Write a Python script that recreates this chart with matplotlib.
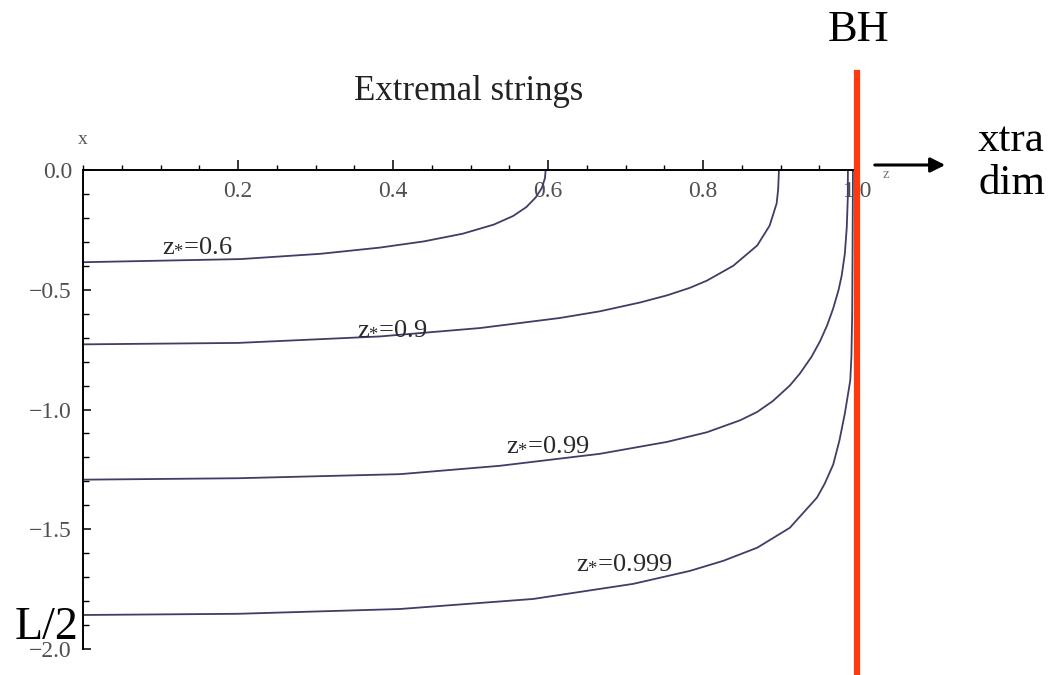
import matplotlib
matplotlib.use("Agg")
import matplotlib.pyplot as plt
from matplotlib.lines import Line2D
from matplotlib.ticker import MultipleLocator, FixedLocator, FuncFormatter

# ---- data ----
z_star_labels = ["0.6", "0.9", "0.99", "0.999"]

z_06 = [0.0, 0.203, 0.306, 0.383, 0.440, 0.490, 0.530, 0.555, 0.572, 0.584, 0.592, 0.596, 0.597]
x_06 = [-0.385, -0.372, -0.350, -0.324, -0.298, -0.266, -0.228, -0.192, -0.155, -0.115,
        -0.075, -0.035, 0.0]

z_09 = [0.0, 0.2, 0.383, 0.512, 0.615, 0.667, 0.719, 0.754, 0.783, 0.805, 0.839, 0.870,
        0.886, 0.895, 0.897, 0.898]
x_09 = [-0.728, -0.722, -0.695, -0.660, -0.618, -0.590, -0.553, -0.523, -0.492, -0.462,
        -0.400, -0.315, -0.232, -0.140, -0.080, 0.0]

z_099 = [0.0, 0.2, 0.409, 0.538, 0.667, 0.754, 0.805, 0.848, 0.870, 0.890, 0.912, 0.925,
         0.940, 0.951, 0.960, 0.968, 0.975, 0.979, 0.983, 0.9855, 0.9868, 0.987]
x_099 = [-1.293, -1.287, -1.270, -1.235, -1.185, -1.135, -1.095, -1.045, -1.010, -0.965,
         -0.900, -0.850, -0.780, -0.715, -0.650, -0.578, -0.500, -0.440, -0.350, -0.240,
         -0.120, 0.0]

z_0999 = [0.0, 0.2, 0.409, 0.581, 0.710, 0.783, 0.826, 0.870, 0.912, 0.947, 0.957, 0.968,
          0.976, 0.983, 0.990, 0.9915, 0.9925, 0.993, 0.9935]
x_0999 = [-1.858, -1.853, -1.833, -1.791, -1.728, -1.674, -1.632, -1.577, -1.494, -1.368,
          -1.310, -1.230, -1.130, -1.017, -0.879, -0.780, -0.600, -0.330, 0.0]

curves_z = [z_06, z_09, z_099, z_0999]
curves_x = [x_06, x_09, x_099, x_0999]

# label anchor positions (data coords) for each curve label
label_z = [0.148, 0.399, 0.600, 0.699]
label_x = [-0.314, -0.660, -1.146, -1.636]

x_ticks = [0.2, 0.4, 0.6, 0.8, 1.0]
y_ticks = [0.0, -0.5, -1.0, -1.5, -2.0]

# ---- figure ----
W, H = 1050, 675
fig = plt.figure(figsize=(W / 100, H / 100), dpi=100)
serif = ["Liberation Serif", "DejaVu Serif"]
plt.rcParams["font.family"] = serif
plt.rcParams["mathtext.fontset"] = "custom"
plt.rcParams["mathtext.rm"] = "Liberation Serif"
plt.rcParams["mathtext.it"] = "Liberation Serif"

ax = fig.add_axes([83 / W, 1 - 649 / H, 775 / W, (649 - 170) / H])
ax.set_xlim(0, 1.0)
ax.set_ylim(-2.0, 0.0)

curve_color = "#3e3e66"
for zs, xs in zip(curves_z, curves_x):
    ax.plot(zs, xs, color=curve_color, lw=1.3, solid_capstyle="round",
            solid_joinstyle="round", clip_on=False)

for lbl, lz, lx in zip(z_star_labels, label_z, label_x):
    ax.text(lz, lx, r"z$_{*}$=" + lbl, ha="center", va="center",
            fontsize=19, color="#2a2a2a", family=serif)

# axes styling (Mathematica-like axes through the origin)
for s in ["top", "right"]:
    ax.spines[s].set_visible(False)
ax.spines["bottom"].set_position(("data", 0.0))
ax.spines["bottom"].set_linewidth(1.4)
ax.spines["left"].set_linewidth(1.4)

ax.xaxis.set_major_locator(FixedLocator(x_ticks))
ax.xaxis.set_minor_locator(MultipleLocator(0.05))
ax.yaxis.set_major_locator(FixedLocator(y_ticks))
ax.yaxis.set_minor_locator(MultipleLocator(0.1))
ax.xaxis.set_major_formatter(FuncFormatter(lambda v, p: f"{v:.1f}"))
ax.yaxis.set_major_formatter(FuncFormatter(lambda v, p: f"{v:.1f}".replace("-", "\u2212")))

ax.tick_params(axis="x", which="major", direction="in", length=7, width=1.1,
               labelsize=17, labelcolor="#505050", pad=8)
ax.tick_params(axis="x", which="minor", direction="in", length=3.5, width=1.0)
ax.tick_params(axis="y", which="major", direction="in", length=6, width=1.1,
               labelsize=17, labelcolor="#505050", pad=8)
ax.tick_params(axis="y", which="minor", direction="in", length=4, width=1.0)
for t in ax.get_xticklabels() + ax.get_yticklabels():
    t.set_family(serif)

# axis names
fig.text(83 / W, 1 - 140 / H, "x", ha="center", va="center", fontsize=14, color="#555555")
fig.text(886 / W, 1 - 174 / H, "z", ha="center", va="center", fontsize=11, color="#777777")

# title
fig.text(469 / W, 1 - 92 / H, "Extremal strings", ha="center", va="center",
         fontsize=25, color="#222222")

# black hole marker line
fig.add_artist(Line2D([857 / W, 857 / W], [0, 1 - 73 / H], color="#ff3a10", lw=4.5))
fig.text(859 / W, 1 - 30 / H, "BH", ha="center", va="center", fontsize=32, color="black")

# extra dimension arrow + label
ax.annotate("", xy=(948 / W, 1 - 165 / H), xytext=(872 / W, 1 - 165 / H),
            xycoords="figure fraction", textcoords="figure fraction",
            arrowprops=dict(arrowstyle="-|>", color="black", lw=2.2, mutation_scale=22))
fig.text(978 / W, 1 - 141 / H, "xtra", ha="left", va="center", fontsize=31, color="black")
fig.text(978 / W, 1 - 184 / H, "dim", ha="left", va="center", fontsize=31, color="black")

# L/2 label
fig.text(47 / W, 1 - 628 / H, "L/2", ha="center", va="center", fontsize=33, color="black")

fig.savefig("out.png", dpi=100)
